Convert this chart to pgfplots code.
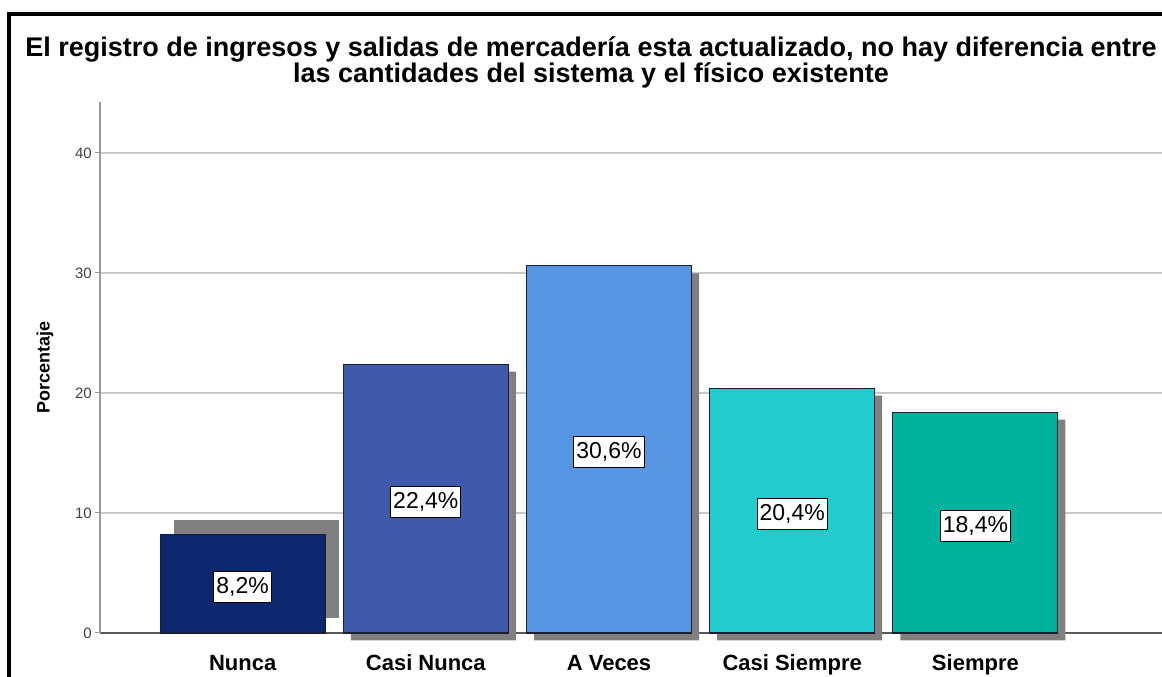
\documentclass[border=0pt]{standalone}
\usepackage{pgfplots}
\usepackage{pgfplotstable}
\pgfplotsset{compat=1.18}
\usepackage{fontspec}
\setmainfont{Liberation Sans}

\definecolor{cNunca}{HTML}{0C2870}
\definecolor{cCasiNunca}{HTML}{3F5AAA}
\definecolor{cAVeces}{HTML}{5595E2}
\definecolor{cCasiSiempre}{HTML}{20CCCC}
\definecolor{cSiempre}{HTML}{00B39F}
\definecolor{gridc}{HTML}{C8C8C8}
\definecolor{shadowc}{HTML}{808080}
\definecolor{barline}{HTML}{1A1F33}

% percentages per category (x = position)
\pgfplotstableread{
x y
0 8.2
1 22.4
2 30.6
3 20.4
4 18.4
}\datatable

\begin{document}
\begin{tikzpicture}[x=1bp,y=1bp]
\useasboundingbox (0,0) rectangle (1162,677);
\begin{axis}[
    at={(100bp,44bp)}, anchor=south west,
    scale only axis, width=1062bp, height=531bp,
    xmin=-0.7787, xmax=5.019, ymin=0, ymax=44.25,
    ybar, bar width=165bp, bar shift=0pt,
    clip=false,
    axis x line*=bottom, axis y line*=left,
    x axis line style={-, draw=black!65, line width=1.5bp},
    y axis line style={-, draw=black!40, line width=1.5bp},
    xtick={0,1,2,3,4},
    xticklabels={Nunca, Casi Nunca, A Veces, Casi Siempre, Siempre},
    xtick style={draw=none},
    ytick={0,10,20,30,40},
    ytick style={draw=black!40, line width=1bp},
    tick align=outside, major tick length=5bp,
    ymajorgrids, grid style={gridc, line width=1.2bp},
    /pgf/number format/assume math mode=true,
    yticklabel style={font=\fontsize{15bp}{15bp}\selectfont, text=black!75, inner sep=3bp},
    xticklabel style={font=\bfseries\fontsize{22bp}{22bp}\selectfont, anchor=base, yshift=-33bp},
    ylabel={Porcentaje},
    ylabel style={font=\bfseries\fontsize{18bp}{18bp}\selectfont, at={(axis description cs:-0.0518,0.5)}, anchor=center},
]
% shadows
\addplot[fill=shadowc, draw=none, xshift=7.5bp, yshift=-7.5bp] coordinates {(1,22.4) (2,30.6) (3,20.4) (4,18.4)};
\addplot[fill=shadowc, draw=none, xshift=14bp, yshift=15bp] coordinates {(0,8.2)};
% bars
\addplot[fill=cNunca, draw=barline, line width=1.2bp] coordinates {(0,8.2)};
\addplot[fill=cCasiNunca, draw=barline, line width=1.2bp] coordinates {(1,22.4)};
\addplot[fill=cAVeces, draw=barline, line width=1.2bp] coordinates {(2,30.6)};
\addplot[fill=cCasiSiempre, draw=barline, line width=1.2bp] coordinates {(3,20.4)};
\addplot[fill=cSiempre, draw=barline, line width=1.2bp] coordinates {(4,18.4)};
% value labels at mid height
\addplot[draw=none, fill=none, point meta=explicit,
    nodes near coords={\pgfmathprintnumber[fixed, fixed zerofill, precision=1, use comma]{\pgfplotspointmeta}\%},
    nodes near coords style={anchor=center, fill=white, draw=black, line width=1bp, inner xsep=2.5bp, inner ysep=6bp,
        font=\fontsize{23bp}{23bp}\selectfont, yshift=-3bp}]
    table[x=x, y expr=\thisrow{y}/2, meta=y] {\datatable};
\end{axis}
\draw[line width=4bp, line join=miter] (9,0) -- (9,662.5) -- (1162,662.5);
\node[anchor=north, align=center, inner sep=0pt, font=\bfseries\fontsize{27bp}{26bp}\selectfont]
  at (591,640) {El registro de ingresos y salidas de mercadería esta actualizado, no hay diferencia entre\\las cantidades del sistema y el físico existente};
\end{tikzpicture}
\end{document}
